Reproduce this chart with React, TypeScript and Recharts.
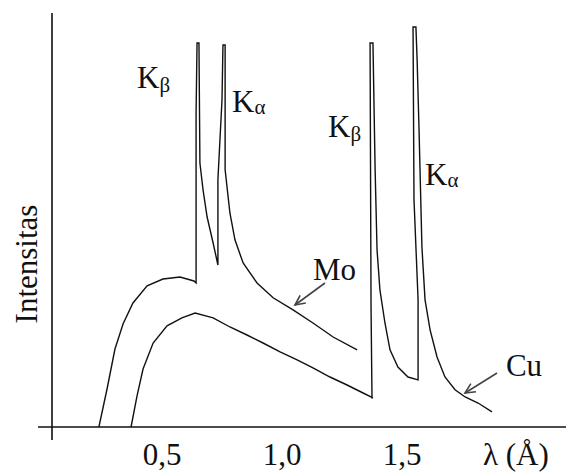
import React from "react";
import { LineChart, Line, XAxis, YAxis, ReferenceLine, ReferenceDot } from "recharts";

// wavelength in Å, intensity in arbitrary units (Cu Kα peak = 100)
const moLambda = [
  0.237, 0.271, 0.304, 0.338, 0.379, 0.438, 0.504, 0.575, 0.633, 0.642, 0.642,
  0.646, 0.654, 0.658, 0.671, 0.688, 0.713, 0.733, 0.733, 0.75, 0.754, 0.763,
  0.763, 0.763, 0.783, 0.804, 0.838, 0.896, 0.963, 1.046, 1.129, 1.213, 1.313,
];
const moIntensity = [
  0, 9.5, 19.5, 25.8, 31, 35.3, 37, 37.5, 36.5, 36, 78.5, 96, 96, 66, 59.3, 52.5,
  46, 40.5, 61.8, 81.8, 95.5, 95.5, 81.8, 64.3, 53.5, 46.8, 41, 36, 32.3, 29.3,
  26, 22.5, 19.3,
];

const cuLambda = [
  0.371, 0.396, 0.421, 0.463, 0.521, 0.583, 0.638, 0.713, 0.783, 0.854, 0.921,
  0.992, 1.063, 1.129, 1.2, 1.271, 1.338, 1.379, 1.375, 1.371, 1.367, 1.379,
  1.383, 1.388, 1.396, 1.408, 1.429, 1.45, 1.483, 1.525, 1.567, 1.567, 1.55,
  1.546, 1.558, 1.563, 1.571, 1.583, 1.596, 1.617, 1.646, 1.679, 1.721, 1.763,
  1.817, 1.875,
];
const cuIntensity = [
  0, 7.8, 14.5, 21, 25.3, 27.3, 28.5, 27.3, 25, 23, 21, 18.8, 16.8, 14.8, 12.5,
  10.5, 8.5, 7.3, 7.3, 30, 96, 96, 81.8, 64.3, 44.3, 34.3, 26, 19.3, 15, 12.5,
  11.8, 31.8, 56.8, 100, 100, 91.8, 74.3, 45, 31.8, 24.3, 17.5, 12.5, 9.3, 7.5,
  6, 3.8,
];

const xTicks = [0.5, 1.0, 1.5];

// annotation texts and where they sit (λ, intensity)
const labelMain = ["K", "K", "K", "K", "Mo", "Cu", "λ (Å)"];
const labelSub = ["β", "α", "β", "α", "", "", ""];
const labelLambda = [0.396, 0.792, 1.192, 1.596, 1.129, 1.933, 1.8375];
const labelIntensity = [84.75, 78.75, 72.5, 60.5, 36.75, 12.75, -9.5];

// arrows: [from λ, from I, to λ, to I]
const arrows = [
  [1.179, 36, 1.054, 30.5],
  [1.896, 13.5, 1.7625, 8.5],
];

const yAxisAt = 0.0417;
const font = "'Liberation Serif', 'Times New Roman', serif";

const toRows = (xs: number[], ys: number[]) => xs.map((x, i) => ({ x, y: ys[i] }));
const moData = toRows(moLambda, moIntensity);
const cuData = toRows(cuLambda, cuIntensity);

const Arrow = (p: any) => {
  const { x1, y1, x2, y2 } = p;
  const a = Math.atan2(y2 - y1, x2 - x1);
  const len = 11;
  const s = 0.45;
  const pts = [
    [x2 - len * Math.cos(a - s), y2 - len * Math.sin(a - s)],
    [x2, y2],
    [x2 - len * Math.cos(a + s), y2 - len * Math.sin(a + s)],
  ]
    .map((q) => q.join(","))
    .join(" ");
  return (
    <g stroke="#444" strokeWidth={1.6} fill="none">
      <line x1={x1} y1={y1} x2={x2} y2={y2} />
      <polyline points={pts} />
    </g>
  );
};

const Tick = (p: any) => (
  <text
    x={p.x}
    y={p.y}
    dy={17}
    textAnchor="middle"
    fill="#111"
    fontSize={31}
    fontFamily={font}
  >
    {p.payload.value.toFixed(1).replace(".", ",")}
  </text>
);

const App = () => {
  return (
    <div style={{ position: "absolute", left: 0, top: 0, background: "#fff" }}>
      <LineChart
        width={566}
        height={473}
        margin={{ top: 13, right: 0, bottom: 0, left: 38 }}
      >
        <XAxis
          type="number"
          dataKey="x"
          domain={[-0.01667, 2.18333]}
          allowDataOverflow
          ticks={xTicks}
          interval={0}
          height={33}
          axisLine={false}
          tickLine={false}
          tick={Tick}
        />
        <YAxis type="number" domain={[-3.25, 103.5]} allowDataOverflow hide />
        <ReferenceLine y={0} stroke="#111" strokeWidth={1.6} />
        <ReferenceLine x={yAxisAt} stroke="#111" strokeWidth={1.6} />
        <Line
          data={moData}
          dataKey="y"
          type="linear"
          stroke="#111"
          strokeWidth={1.4}
          dot={false}
          isAnimationActive={false}
        />
        <Line
          data={cuData}
          dataKey="y"
          type="linear"
          stroke="#111"
          strokeWidth={1.4}
          dot={false}
          isAnimationActive={false}
        />
        {arrows.map((a, i) => (
          <ReferenceLine
            key={"ar" + i}
            segment={[
              { x: a[0], y: a[1] },
              { x: a[2], y: a[3] },
            ]}
            ifOverflow="visible"
            shape={Arrow}
          />
        ))}
        {labelMain.map((m, i) => (
          <ReferenceDot
            key={"lb" + i}
            x={labelLambda[i]}
            y={labelIntensity[i]}
            ifOverflow="visible"
            shape={(p: any) => (
              <text x={p.cx} y={p.cy} fill="#111" fontSize={31} fontFamily={font}>
                {m}
                {labelSub[i] && (
                  <tspan fontSize={21} dy={labelSub[i] === "β" ? 4 : 2}>
                    {labelSub[i]}
                  </tspan>
                )}
              </text>
            )}
          />
        ))}
        <ReferenceDot
          x={-0.021}
          y={40.75}
          ifOverflow="visible"
          shape={(p: any) => (
            <text
              x={p.cx}
              y={p.cy}
              fill="#111"
              fontSize={31}
              fontFamily={font}
              textAnchor="middle"
              transform={`rotate(-90 ${p.cx} ${p.cy})`}
            >
              Intensitas
            </text>
          )}
        />
      </LineChart>
    </div>
  );
};

export default App;
